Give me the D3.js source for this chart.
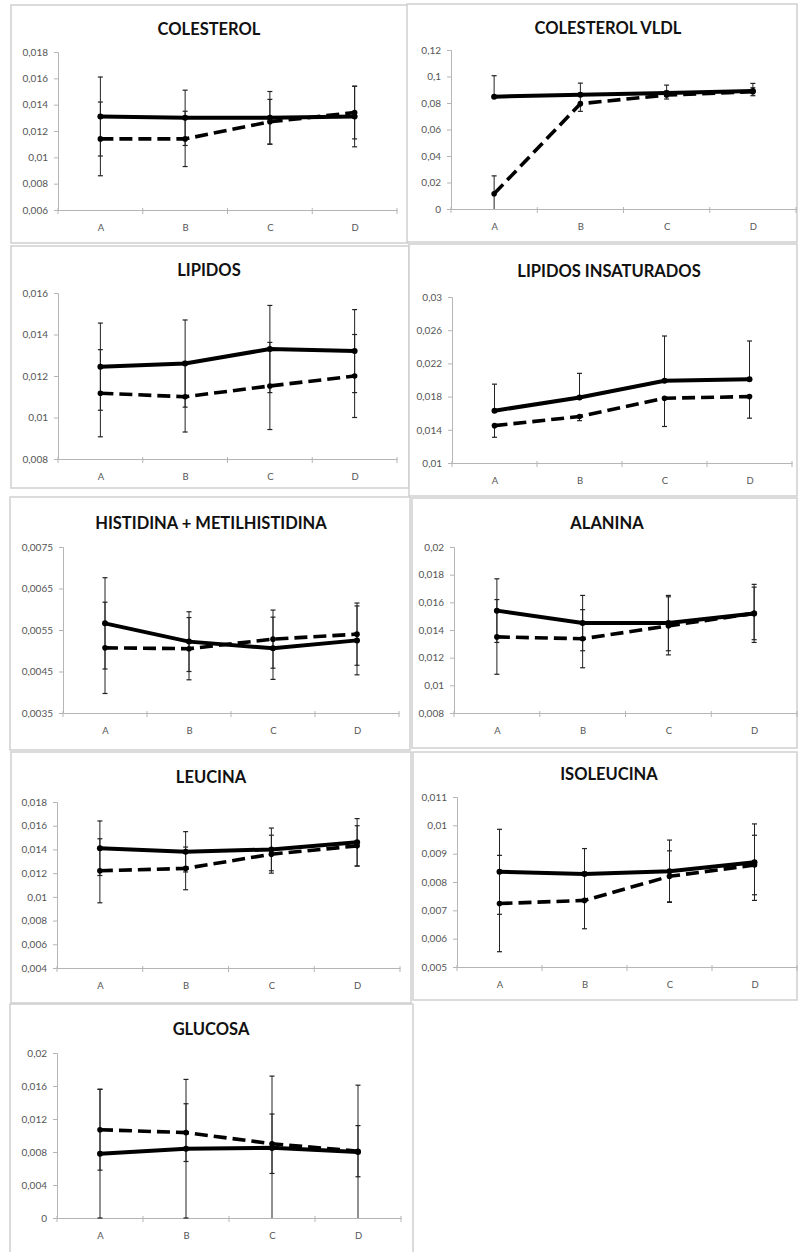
<!DOCTYPE html>
<html>
<head>
<meta charset="utf-8">
<script src="https://cdn.jsdelivr.net/npm/d3@7"></script>
<style>
  html, body { margin: 0; padding: 0; background: #fff; }
  svg { display: block; }
</style>
</head>
<body>
<svg id="chart" width="798" height="1252"></svg>
<script>
// ---------- DATA ----------
const categories = ["A", "B", "C", "D"];

const titles = [
  "COLESTEROL", "COLESTEROL VLDL",
  "LIPIDOS", "LIPIDOS INSATURADOS",
  "HISTIDINA + METILHISTIDINA", "ALANINA",
  "LEUCINA", "ISOLEUCINA",
  "GLUCOSA"
];

// solid series means
const solidMeans = [
  [0.0131, 0.0130, 0.0130, 0.0131],
  [0.0848, 0.0862, 0.0875, 0.0890],
  [0.01245, 0.0126, 0.0133, 0.0132],
  [0.0163, 0.0179, 0.0199, 0.0201],
  [0.00566, 0.00522, 0.00506, 0.00525],
  [0.0154, 0.0145, 0.0145, 0.0152],
  [0.0141, 0.0138, 0.0140, 0.0146],
  [0.00836, 0.00828, 0.00838, 0.0087],
  [0.0078, 0.0084, 0.0085, 0.0080]
];

// dashed series means
const dashedMeans = [
  [0.0114, 0.0114, 0.0127, 0.0134],
  [0.0115, 0.0795, 0.0860, 0.0885],
  [0.01117, 0.0110, 0.01152, 0.0120],
  [0.0145, 0.0156, 0.0178, 0.0180],
  [0.00507, 0.00505, 0.00528, 0.0054],
  [0.0135, 0.01337, 0.0143, 0.0152],
  [0.0122, 0.0124, 0.0136, 0.0143],
  [0.00724, 0.00735, 0.0082, 0.0086],
  [0.0107, 0.01035, 0.0090, 0.0081]
];

// solid series error (half-length)
const solidErr = [
  [0.0030, 0.0021, 0.0020, 0.0023],
  [0.0158, 0.0088, 0.0060, 0.0058],
  [0.0021, 0.0021, 0.0021, 0.0020],
  [0.0032, 0.0029, 0.0054, 0.0046],
  [0.0011, 0.00072, 0.00075, 0.00083],
  [0.0023, 0.0020, 0.0020, 0.0021],
  [0.0023, 0.0017, 0.0018, 0.0020],
  [0.0015, 0.0009, 0.0011, 0.00135],
  [0.0078, 0.0084, 0.0087, 0.0081]
];

// dashed series error (half-length)
const dashedErr = [
  [0.0028, 0.0021, 0.0017, 0.0020],
  [0.0135, 0.0058, 0.0030, 0.0030],
  [0.0021, 0.0017, 0.0021, 0.0020],
  [0.0014, 0.0005, 0.0034, 0.0026],
  [0.0011, 0.00075, 0.0007, 0.00075],
  [0.0027, 0.0021, 0.0021, 0.0019],
  [0.0027, 0.0018, 0.0016, 0.0017],
  [0.0017, 0.0010, 0.0009, 0.00105],
  [0.0049, 0.0035, 0.0036, 0.0031]
];

// error bar direction per panel: "both", "plus", "minus"
const solidErrDir  = ["both", "plus", "both", "plus", "both", "both", "both", "both", "both"];
const dashedErrDir = ["both", "both", "both", "minus", "both", "both", "both", "both", "both"];

const yTicks = [
  [0.006, 0.008, 0.01, 0.012, 0.014, 0.016, 0.018],
  [0, 0.02, 0.04, 0.06, 0.08, 0.1, 0.12],
  [0.008, 0.01, 0.012, 0.014, 0.016],
  [0.01, 0.014, 0.018, 0.022, 0.026, 0.03],
  [0.0035, 0.0045, 0.0055, 0.0065, 0.0075],
  [0.008, 0.01, 0.012, 0.014, 0.016, 0.018, 0.02],
  [0.004, 0.006, 0.008, 0.01, 0.012, 0.014, 0.016, 0.018],
  [0.005, 0.006, 0.007, 0.008, 0.009, 0.01, 0.011],
  [0, 0.004, 0.008, 0.012, 0.016, 0.02]
];

// ---------- LAYOUT ----------
// box: panel border; plot: [left, right, top, bottom]; title center
const layout = [
  { box: [11, 5, 408, 243],    plot: [58, 397, 52, 210],    title: [209, 29] },
  { box: [407, 4, 797, 242],   plot: [451, 796, 50, 209],   title: [608, 28] },
  { box: [11, 246, 409, 488],  plot: [58, 397, 293, 459],   title: [209, 270] },
  { box: [409, 244, 797, 496], plot: [452, 792, 297, 463],  title: [609, 271] },
  { box: [10, 497, 410, 750],  plot: [63, 399, 547, 713],   title: [211, 523] },
  { box: [412, 498, 797, 748], plot: [454, 797, 547, 713],  title: [607, 523] },
  { box: [11, 752, 411, 1003], plot: [57, 400, 802, 968],   title: [211, 777] },
  { box: [413, 752, 797, 1000],plot: [457, 797, 797, 967],  title: [609, 774] },
  { box: [10, 1004, 413, 1260],plot: [57, 401, 1053, 1218], title: [211, 1029] }
];

const svg = d3.select("#chart");
const fmt = v => String(v).replace(".", ",");
const AXIS = "#b5b5b5";

titles.forEach((title, i) => {
  const L = layout[i];
  const g = svg.append("g");

  // panel border
  g.append("rect")
    .attr("x", L.box[0]).attr("y", L.box[1])
    .attr("width", L.box[2] - L.box[0]).attr("height", L.box[3] - L.box[1])
    .attr("fill", "#fff").attr("stroke", "#cfcfcf").attr("stroke-width", 1.5);

  const [pl, pr, pt, pb] = L.plot;
  const ticks = yTicks[i];
  const y = d3.scaleLinear().domain([ticks[0], ticks[ticks.length - 1]]).range([pb, pt]);
  const x = d3.scalePoint().domain(categories).range([pl, pr]).padding(0.5);
  const band = d3.scaleBand().domain(categories).range([pl, pr]);

  // title
  g.append("text")
    .attr("x", L.title[0]).attr("y", L.title[1])
    .attr("text-anchor", "middle").attr("dominant-baseline", "central")
    .attr("font-family", "Lato, 'Open Sans', sans-serif")
    .attr("font-weight", 700).attr("font-size", 16.5).attr("fill", "#111")
    .text(title);

  // y axis
  const yAxis = d3.axisLeft(y).tickValues(ticks).tickFormat(fmt).tickSize(4).tickPadding(6);
  const ya = g.append("g").attr("transform", `translate(${pl},0)`).call(yAxis);
  ya.select(".domain").attr("stroke", AXIS);
  ya.selectAll(".tick line").attr("stroke", AXIS);
  ya.selectAll(".tick text")
    .attr("font-family", "Lato, 'Open Sans', sans-serif")
    .attr("font-size", 10).attr("fill", "#555");

  // x axis
  const xAxis = d3.axisBottom(x).tickSize(0).tickPadding(14);
  const xa = g.append("g").attr("transform", `translate(0,${pb})`).call(xAxis);
  xa.select(".domain").attr("stroke", AXIS);
  xa.selectAll(".tick text")
    .attr("font-family", "Lato, 'Open Sans', sans-serif")
    .attr("font-size", 9.5).attr("fill", "#555");
  // boundary tick marks
  const bounds = categories.map(c => band(c)).concat([pr]);
  g.selectAll(".btick").data(bounds).enter().append("line")
    .attr("x1", d => d).attr("x2", d => d)
    .attr("y1", pb - 2).attr("y2", pb + 4)
    .attr("stroke", AXIS);

  const [ymin, ymax] = y.domain();
  const clamp = v => Math.max(ymin, Math.min(ymax, v));

  const drawErr = (means, errs, dir) => {
    means.forEach((m, k) => {
      const cx = x(categories[k]);
      const hi = dir === "minus" ? m : m + errs[k];
      const lo = dir === "plus" ? m : m - errs[k];
      const hiC = clamp(hi), loC = clamp(lo);
      g.append("line")
        .attr("x1", cx).attr("x2", cx)
        .attr("y1", y(hiC)).attr("y2", y(loC))
        .attr("stroke", "#222").attr("stroke-width", 1);
      if (dir !== "minus" && hi === hiC) {
        g.append("line").attr("x1", cx - 2.5).attr("x2", cx + 2.5)
          .attr("y1", y(hi)).attr("y2", y(hi))
          .attr("stroke", "#222").attr("stroke-width", 1.2);
      }
      if (dir !== "plus" && lo === loC) {
        g.append("line").attr("x1", cx - 2.5).attr("x2", cx + 2.5)
          .attr("y1", y(lo)).attr("y2", y(lo))
          .attr("stroke", "#222").attr("stroke-width", 1.2);
      }
    });
  };

  drawErr(solidMeans[i], solidErr[i], solidErrDir[i]);
  drawErr(dashedMeans[i], dashedErr[i], dashedErrDir[i]);

  const line = d3.line().x((d, k) => x(categories[k])).y(d => y(d));

  g.append("path").datum(dashedMeans[i])
    .attr("d", line).attr("fill", "none")
    .attr("stroke", "#000").attr("stroke-width", 3.6)
    .attr("stroke-dasharray", "13,6");
  g.selectAll(".md").data(dashedMeans[i]).enter().append("circle")
    .attr("cx", (d, k) => x(categories[k])).attr("cy", d => y(d))
    .attr("r", 2.8).attr("fill", "#000");

  g.append("path").datum(solidMeans[i])
    .attr("d", line).attr("fill", "none")
    .attr("stroke", "#000").attr("stroke-width", 4);
  g.selectAll(".ms").data(solidMeans[i]).enter().append("circle")
    .attr("cx", (d, k) => x(categories[k])).attr("cy", d => y(d))
    .attr("r", 3).attr("fill", "#000");
});
</script>
</body>
</html>
